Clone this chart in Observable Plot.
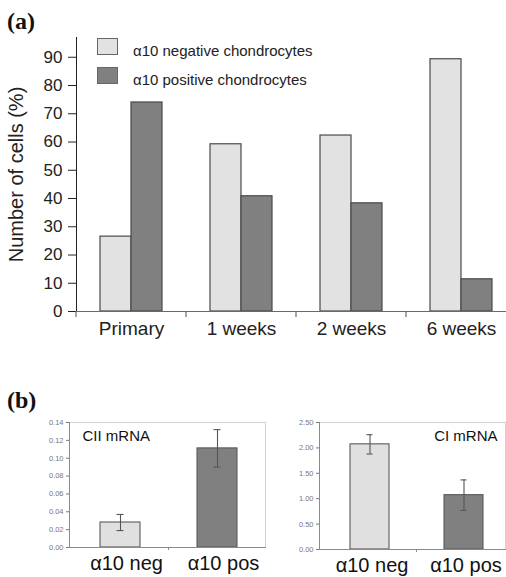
<!DOCTYPE html>
<html><head><meta charset="utf-8">
<script src="https://cdn.jsdelivr.net/npm/d3@7"></script>
<script src="https://cdn.jsdelivr.net/npm/@observablehq/plot@0.6"></script>
<style>
body{margin:0;background:#fff}
#root{position:relative;width:506px;height:577px;overflow:hidden;font-family:"Liberation Sans",Arial,sans-serif;color:#222;background:#fff}
.abs{position:absolute;left:0;top:0}
.panel{position:absolute;font-family:"Liberation Serif","Times New Roman",serif;font-weight:bold;font-size:24px;line-height:1;color:#111}
.leg{position:absolute;left:97px;height:28px;width:300px}
.sw{position:absolute;left:0;top:0;width:21px;height:17px;box-sizing:border-box;border:1px solid #666}
.lt{position:absolute;left:36px;top:3.5px;font-size:15px;line-height:17px;white-space:nowrap;color:#222}
#a [aria-label="y-axis tick label"]{font-size:17px}
#a [aria-label="fx-axis tick label"]{font-size:19px}
#a [aria-label="y-axis label"]{font-size:20px}
</style>
</head><body>
<div id="root">
  <div class="panel" style="left:7px;top:9px">(a)</div>
  <div class="panel" style="left:7px;top:388px">(b)</div>
</div>
<script>
// ---- Panel (a) data ----
const categories = ["Primary", "1 weeks", "2 weeks", "6 weeks"];
const seriesA = ["α10 negative chondrocytes", "α10 positive chondrocytes"];
const negativePct = [26.5, 59.2, 62.3, 89.3];
const positivePct = [74.0, 40.8, 38.3, 11.4];
const yTicksA = [0, 10, 20, 30, 40, 50, 60, 70, 80, 90];
const colorsA = ["#e2e2e2", "#808080"];

// ---- Panel (b) data ----
const groupsB = ["α10 neg", "α10 pos"];
const ciiMean = [0.028, 0.111];
const ciiErr = [0.009, 0.021];
const ciMean = [2.07, 1.07];
const ciErr = [0.19, 0.30];
const yTicksCII = [0, 0.02, 0.04, 0.06, 0.08, 0.10, 0.12, 0.14];
const yTicksCI = [0, 0.5, 1.0, 1.5, 2.0, 2.5];
const colorsB = ["#e0e0e0", "#808080"];

const root = document.getElementById("root");
const font = '"Liberation Sans", Arial, sans-serif';

const rowsA = categories.flatMap((c, i) => [
  {cat: c, series: seriesA[0], value: negativePct[i]},
  {cat: c, series: seriesA[1], value: positivePct[i]}
]);

const chartA = Plot.plot({
  width: 506, height: 345,
  marginLeft: 76, marginRight: -10, marginTop: 37, marginBottom: 34,
  style: {fontFamily: font, color: "#222", background: "transparent", overflow: "hidden"},
  fx: {domain: categories, padding: 0, label: null, axis: "bottom", tickSize: 0, tickPadding: 10},
  x: {domain: seriesA, paddingInner: 0, paddingOuter: 0.72, axis: null},
  y: {domain: [0, 97], ticks: yTicksA, tickSize: 8, tickPadding: 6, line: true,
      label: "Number of cells (%)", labelAnchor: "center", labelOffset: 68, labelArrow: false},
  color: {domain: seriesA, range: colorsA},
  marks: [
    Plot.barY(rowsA, {fx: "cat", x: "series", y: "value", fill: "series", stroke: "#4a4a4a", strokeWidth: 1.2}),
    Plot.ruleY([0], {stroke: "#6a6a6a", strokeWidth: 1.2})
  ]
});
chartA.id = "a";
chartA.classList.add("abs");
root.appendChild(chartA);

// category boundary ticks below the x axis of (a)
{
  const fx = chartA.scale("fx");
  const y0 = chartA.scale("y").apply(0);
  const svg = d3.select(chartA);
  categories.forEach(c => {
    const xb = fx.apply(c);
    svg.append("line").attr("x1", xb).attr("x2", xb).attr("y1", y0).attr("y2", y0 + 6)
      .attr("stroke", "#6a6a6a").attr("stroke-width", 1.2);
  });
}

// legend (a)
seriesA.forEach((s, i) => {
  const row = document.createElement("div");
  row.className = "leg";
  row.style.top = (38 + i * 29) + "px";
  row.innerHTML = `<div class="sw" style="background:${colorsA[i]}"></div><div class="lt">${s}</div>`;
  root.appendChild(row);
});

function mrnaPlot(opts) {
  const rows = groupsB.map((g, i) => ({
    g, mean: opts.mean[i], lo: opts.mean[i] - opts.err[i], hi: opts.mean[i] + opts.err[i]
  }));
  const chart = Plot.plot({
    width: opts.width, height: 177,
    marginLeft: opts.marginLeft, marginRight: opts.marginRight, marginTop: 22, marginBottom: opts.marginBottom,
    style: {fontFamily: font, color: "#222", background: "transparent"},
    x: {domain: groupsB, paddingInner: 0.59, paddingOuter: opts.paddingOuter, align: opts.align},
    y: {domain: opts.domain},
    color: {domain: groupsB, range: colorsB},
    marks: [
      Plot.frame({stroke: "#d2d2d2"}),
      Plot.barY(rows, {x: "g", y: "mean", fill: "g", stroke: "#5a5a5a", strokeWidth: 1.1}),
      Plot.ruleX(rows, {x: "g", y1: "lo", y2: "hi", stroke: "#555", strokeWidth: 1.1}),
      Plot.tickY(rows, {x: "g", y: "hi", stroke: "#555", strokeWidth: 1.1, insetLeft: 16.5, insetRight: 16.5}),
      Plot.tickY(rows, {x: "g", y: "lo", stroke: "#555", strokeWidth: 1.1, insetLeft: 16.5, insetRight: 16.5}),
      Plot.frame({anchor: "left", stroke: "#8a8a8a"}),
      Plot.frame({anchor: "bottom", stroke: "#8a8a8a"}),
      Plot.axisY({ticks: opts.ticks, tickFormat: d3.format(".2f"), tickSize: 3, tickPadding: 3,
                  fontSize: 7.5, color: "#777", label: null}),
      Plot.axisX({tickSize: 0, tickPadding: 8, fontSize: 20, color: "#111", label: null, dx: opts.labelDx}),
      Plot.text([opts.title], {frameAnchor: opts.titleAnchor, textAnchor: opts.titleAnchor === "top-left" ? "start" : "end",
                  lineAnchor: "top", dx: opts.titleDx, dy: 8, fontSize: 15, fill: "#111"})
    ]
  });
  chart.classList.add("abs");
  chart.style.left = opts.left + "px";
  chart.style.top = "400px";
  // boundary tick between the two categories
  const xs = chart.scale("x");
  const y0 = chart.scale("y").apply(0);
  const mid = (xs.apply(groupsB[0]) + xs.bandwidth + xs.apply(groupsB[1])) / 2;
  d3.select(chart).append("line").attr("x1", mid).attr("x2", mid).attr("y1", y0).attr("y2", y0 + 3)
    .attr("stroke", "#8a8a8a");
  root.appendChild(chart);
  return chart;
}

mrnaPlot({left: 0, width: 270, marginLeft: 69, marginRight: 5, marginBottom: 30,
  paddingOuter: 0.296, align: 0.517, labelDx: 6,
  domain: [0, 0.14], ticks: yTicksCII, mean: ciiMean, err: ciiErr,
  title: "CII mRNA", titleAnchor: "top-left", titleDx: 13});
mrnaPlot({left: 270, width: 236, marginLeft: 49, marginRight: 1, marginBottom: 28,
  paddingOuter: 0.274, align: 0.58, labelDx: 2,
  domain: [0, 2.5], ticks: yTicksCI, mean: ciMean, err: ciErr,
  title: "CI mRNA", titleAnchor: "top-right", titleDx: -8});
</script>
</body></html>
